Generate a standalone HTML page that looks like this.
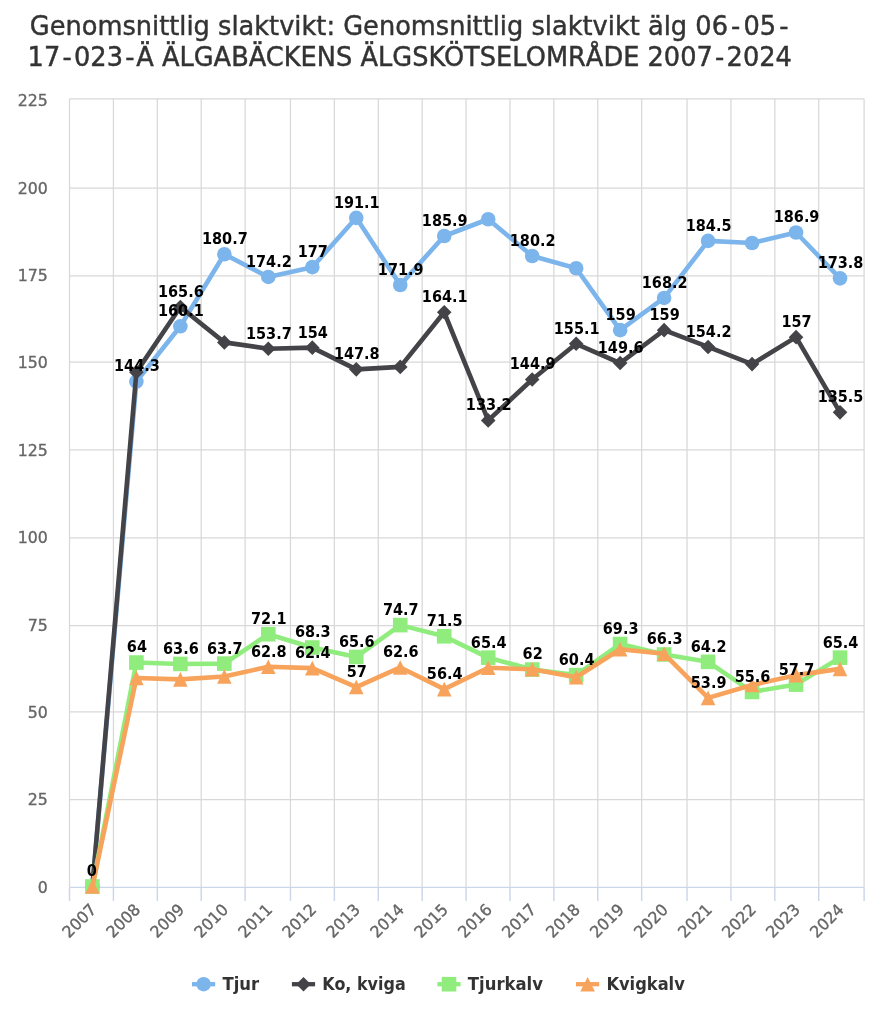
<!DOCTYPE html>
<html lang="sv"><head><meta charset="utf-8"><title>Genomsnittlig slaktvikt</title>
<style>html,body{margin:0;padding:0;background:#fff}body{width:878px;height:1024px;overflow:hidden}svg{display:block}
text{font-family:"DejaVu Sans", "Liberation Sans", sans-serif}
.title{font-size:26.3px;fill:#333;stroke:#333;stroke-width:.45px}
.ax{font-size:16.1px;fill:#666;stroke:#666;stroke-width:.35px}
.dl{font-size:16.1px;font-weight:bold;fill:#000}
.lg{font-size:17.6px;font-weight:bold;fill:#333}
</style></head><body>
<svg width="878" height="1024" viewBox="0 0 878 1024">
<rect width="878" height="1024" fill="#fff"/>
<text class="title" transform="translate(29.8 34.6) scale(0.976 1)" dx="0 0 0 0 0 0 0 0 0 0 0 0 0 0 0 0 0 0 0 0 0 0 0 0 0 0 0 0 0 0 0 0 0 0 0 0 0 0 0 0 0 0 0 0 0 0 0 0 0 0 0 0 0 0 0 3.2 3.2 0 3.2">Genomsnittlig slaktvikt: Genomsnittlig slaktvikt älg 06-05-</text>
<text class="title" transform="translate(27.6 65.7) scale(0.976 1)" dx="0 0 2.3 2.3 0 0 2.3 2.3 0 0 0 0 0 0 0 0 0 0 0 0 0 0 0 0 0 0 0 0 0 0 0 0 0 0 0 0 0 0 0 0 0 0 2.3 2.3 0 0 0">17-023-Ä ÄLGABÄCKENS ÄLGSKÖTSELOMRÅDE 2007-2024</text>
<g stroke="#d8d8d8" stroke-width="1.25" fill="none">
<path d="M69.51 98.77V887.37"/>
<path d="M113.41 98.77V887.37"/>
<path d="M157.31 98.77V887.37"/>
<path d="M201.21 98.77V887.37"/>
<path d="M245.11 98.77V887.37"/>
<path d="M290.47 98.77V887.37"/>
<path d="M334.37 98.77V887.37"/>
<path d="M378.27 98.77V887.37"/>
<path d="M422.17 98.77V887.37"/>
<path d="M466.07 98.77V887.37"/>
<path d="M509.97 98.77V887.37"/>
<path d="M553.87 98.77V887.37"/>
<path d="M597.77 98.77V887.37"/>
<path d="M641.67 98.77V887.37"/>
<path d="M687.03 98.77V887.37"/>
<path d="M730.93 98.77V887.37"/>
<path d="M774.83 98.77V887.37"/>
<path d="M818.73 98.77V887.37"/>
<path d="M864.10 98.77V887.37"/>
<path d="M69.51 799.71H864.10"/>
<path d="M69.51 711.91H864.10"/>
<path d="M69.51 625.57H864.10"/>
<path d="M69.51 537.77H864.10"/>
<path d="M69.51 449.97H864.10"/>
<path d="M69.51 362.17H864.10"/>
<path d="M69.51 275.84H864.10"/>
<path d="M69.51 188.04H864.10"/>
<path d="M69.51 98.77H864.10"/>
</g>
<g stroke="#ccd6eb" stroke-width="1.46" fill="none">
<path d="M69.51 887.37H864.10"/>
<path d="M69.51 887.37V901.07"/>
<path d="M113.41 887.37V901.07"/>
<path d="M157.31 887.37V901.07"/>
<path d="M201.21 887.37V901.07"/>
<path d="M245.11 887.37V901.07"/>
<path d="M290.47 887.37V901.07"/>
<path d="M334.37 887.37V901.07"/>
<path d="M378.27 887.37V901.07"/>
<path d="M422.17 887.37V901.07"/>
<path d="M466.07 887.37V901.07"/>
<path d="M509.97 887.37V901.07"/>
<path d="M553.87 887.37V901.07"/>
<path d="M597.77 887.37V901.07"/>
<path d="M641.67 887.37V901.07"/>
<path d="M687.03 887.37V901.07"/>
<path d="M730.93 887.37V901.07"/>
<path d="M774.83 887.37V901.07"/>
<path d="M818.73 887.37V901.07"/>
<path d="M864.10 887.37V901.07"/>
</g>
<text class="ax" text-anchor="end" transform="translate(47.9 892.97) scale(0.98 1)">0</text>
<text class="ax" text-anchor="end" transform="translate(47.9 805.31) scale(0.98 1)">25</text>
<text class="ax" text-anchor="end" transform="translate(47.9 717.51) scale(0.98 1)">50</text>
<text class="ax" text-anchor="end" transform="translate(47.9 631.17) scale(0.98 1)">75</text>
<text class="ax" text-anchor="end" transform="translate(47.9 543.37) scale(0.98 1)">100</text>
<text class="ax" text-anchor="end" transform="translate(47.9 455.57) scale(0.98 1)">125</text>
<text class="ax" text-anchor="end" transform="translate(47.9 367.77) scale(0.98 1)">150</text>
<text class="ax" text-anchor="end" transform="translate(47.9 281.44) scale(0.98 1)">175</text>
<text class="ax" text-anchor="end" transform="translate(47.9 193.64) scale(0.98 1)">200</text>
<text class="ax" text-anchor="end" transform="translate(47.9 105.55) scale(0.98 1)">225</text>
<text class="ax" text-anchor="end" transform="translate(97.31 910.57) rotate(-45) scale(0.975 1)">2007</text>
<text class="ax" text-anchor="end" transform="translate(141.29 910.57) rotate(-45) scale(0.975 1)">2008</text>
<text class="ax" text-anchor="end" transform="translate(185.26 910.57) rotate(-45) scale(0.975 1)">2009</text>
<text class="ax" text-anchor="end" transform="translate(229.24 910.57) rotate(-45) scale(0.975 1)">2010</text>
<text class="ax" text-anchor="end" transform="translate(273.22 910.57) rotate(-45) scale(0.975 1)">2011</text>
<text class="ax" text-anchor="end" transform="translate(317.20 910.57) rotate(-45) scale(0.975 1)">2012</text>
<text class="ax" text-anchor="end" transform="translate(361.17 910.57) rotate(-45) scale(0.975 1)">2013</text>
<text class="ax" text-anchor="end" transform="translate(405.15 910.57) rotate(-45) scale(0.975 1)">2014</text>
<text class="ax" text-anchor="end" transform="translate(449.13 910.57) rotate(-45) scale(0.975 1)">2015</text>
<text class="ax" text-anchor="end" transform="translate(493.11 910.57) rotate(-45) scale(0.975 1)">2016</text>
<text class="ax" text-anchor="end" transform="translate(537.08 910.57) rotate(-45) scale(0.975 1)">2017</text>
<text class="ax" text-anchor="end" transform="translate(581.06 910.57) rotate(-45) scale(0.975 1)">2018</text>
<text class="ax" text-anchor="end" transform="translate(625.04 910.57) rotate(-45) scale(0.975 1)">2019</text>
<text class="ax" text-anchor="end" transform="translate(669.02 910.57) rotate(-45) scale(0.975 1)">2020</text>
<text class="ax" text-anchor="end" transform="translate(713.00 910.57) rotate(-45) scale(0.975 1)">2021</text>
<text class="ax" text-anchor="end" transform="translate(756.97 910.57) rotate(-45) scale(0.975 1)">2022</text>
<text class="ax" text-anchor="end" transform="translate(800.95 910.57) rotate(-45) scale(0.975 1)">2023</text>
<text class="ax" text-anchor="end" transform="translate(844.93 910.57) rotate(-45) scale(0.975 1)">2024</text>
<g>
<path d="M92.41 886.49 L136.39 381.58 L180.36 326.30 L224.34 254.22 L268.32 276.96 L312.30 267.17 L356.27 217.83 L400.25 285.01 L444.23 236.02 L488.21 219.23 L532.18 255.97 L576.16 268.22 L620.14 330.15 L664.12 297.96 L708.10 240.92 L752.07 243.02 L796.05 232.53 L840.03 278.36" fill="none" stroke="#7cb5ec" stroke-width="4.6" stroke-linejoin="round" stroke-linecap="round"/>
<circle cx="92.41" cy="886.49" r="7.30" fill="#7cb5ec"/>
<circle cx="136.39" cy="381.58" r="7.30" fill="#7cb5ec"/>
<circle cx="180.36" cy="326.30" r="7.30" fill="#7cb5ec"/>
<circle cx="224.34" cy="254.22" r="7.30" fill="#7cb5ec"/>
<circle cx="268.32" cy="276.96" r="7.30" fill="#7cb5ec"/>
<circle cx="312.30" cy="267.17" r="7.30" fill="#7cb5ec"/>
<circle cx="356.27" cy="217.83" r="7.30" fill="#7cb5ec"/>
<circle cx="400.25" cy="285.01" r="7.30" fill="#7cb5ec"/>
<circle cx="444.23" cy="236.02" r="7.30" fill="#7cb5ec"/>
<circle cx="488.21" cy="219.23" r="7.30" fill="#7cb5ec"/>
<circle cx="532.18" cy="255.97" r="7.30" fill="#7cb5ec"/>
<circle cx="576.16" cy="268.22" r="7.30" fill="#7cb5ec"/>
<circle cx="620.14" cy="330.15" r="7.30" fill="#7cb5ec"/>
<circle cx="664.12" cy="297.96" r="7.30" fill="#7cb5ec"/>
<circle cx="708.10" cy="240.92" r="7.30" fill="#7cb5ec"/>
<circle cx="752.07" cy="243.02" r="7.30" fill="#7cb5ec"/>
<circle cx="796.05" cy="232.53" r="7.30" fill="#7cb5ec"/>
<circle cx="840.03" cy="278.36" r="7.30" fill="#7cb5ec"/>
</g>
<g>
<path d="M92.41 886.49 L136.39 372.14 L180.36 307.05 L224.34 342.39 L268.32 348.69 L312.30 347.64 L356.27 369.34 L400.25 366.89 L444.23 312.30 L488.21 420.42 L532.18 379.48 L576.16 343.79 L620.14 363.04 L664.12 330.15 L708.10 346.94 L752.07 364.09 L796.05 337.15 L840.03 412.37" fill="none" stroke="#434348" stroke-width="4.6" stroke-linejoin="round" stroke-linecap="round"/>
<path d="M92.41 879.19L99.71 886.49L92.41 893.79L85.11 886.49Z" fill="#434348"/>
<path d="M136.39 364.84L143.69 372.14L136.39 379.44L129.09 372.14Z" fill="#434348"/>
<path d="M180.36 299.75L187.66 307.05L180.36 314.35L173.06 307.05Z" fill="#434348"/>
<path d="M224.34 335.09L231.64 342.39L224.34 349.69L217.04 342.39Z" fill="#434348"/>
<path d="M268.32 341.39L275.62 348.69L268.32 355.99L261.02 348.69Z" fill="#434348"/>
<path d="M312.30 340.34L319.60 347.64L312.30 354.94L305.00 347.64Z" fill="#434348"/>
<path d="M356.27 362.04L363.57 369.34L356.27 376.64L348.97 369.34Z" fill="#434348"/>
<path d="M400.25 359.59L407.55 366.89L400.25 374.19L392.95 366.89Z" fill="#434348"/>
<path d="M444.23 305.00L451.53 312.30L444.23 319.60L436.93 312.30Z" fill="#434348"/>
<path d="M488.21 413.12L495.51 420.42L488.21 427.72L480.91 420.42Z" fill="#434348"/>
<path d="M532.18 372.18L539.48 379.48L532.18 386.78L524.88 379.48Z" fill="#434348"/>
<path d="M576.16 336.49L583.46 343.79L576.16 351.09L568.86 343.79Z" fill="#434348"/>
<path d="M620.14 355.74L627.44 363.04L620.14 370.34L612.84 363.04Z" fill="#434348"/>
<path d="M664.12 322.85L671.42 330.15L664.12 337.45L656.82 330.15Z" fill="#434348"/>
<path d="M708.10 339.64L715.40 346.94L708.10 354.24L700.80 346.94Z" fill="#434348"/>
<path d="M752.07 356.79L759.37 364.09L752.07 371.39L744.77 364.09Z" fill="#434348"/>
<path d="M796.05 329.85L803.35 337.15L796.05 344.45L788.75 337.15Z" fill="#434348"/>
<path d="M840.03 405.07L847.33 412.37L840.03 419.67L832.73 412.37Z" fill="#434348"/>
</g>
<g>
<path d="M92.41 886.49 L136.39 662.55 L180.36 663.95 L224.34 663.60 L268.32 634.21 L312.30 647.51 L356.27 656.95 L400.25 625.11 L444.23 636.31 L488.21 657.65 L532.18 669.55 L576.16 675.15 L620.14 644.01 L664.12 654.50 L708.10 661.85 L752.07 691.94 L796.05 684.60 L840.03 657.65" fill="none" stroke="#90ed7d" stroke-width="4.6" stroke-linejoin="round" stroke-linecap="round"/>
<rect x="85.11" y="879.19" width="14.60" height="14.60" fill="#90ed7d"/>
<rect x="129.09" y="655.25" width="14.60" height="14.60" fill="#90ed7d"/>
<rect x="173.06" y="656.65" width="14.60" height="14.60" fill="#90ed7d"/>
<rect x="217.04" y="656.30" width="14.60" height="14.60" fill="#90ed7d"/>
<rect x="261.02" y="626.91" width="14.60" height="14.60" fill="#90ed7d"/>
<rect x="305.00" y="640.21" width="14.60" height="14.60" fill="#90ed7d"/>
<rect x="348.97" y="649.65" width="14.60" height="14.60" fill="#90ed7d"/>
<rect x="392.95" y="617.81" width="14.60" height="14.60" fill="#90ed7d"/>
<rect x="436.93" y="629.01" width="14.60" height="14.60" fill="#90ed7d"/>
<rect x="480.91" y="650.35" width="14.60" height="14.60" fill="#90ed7d"/>
<rect x="524.88" y="662.25" width="14.60" height="14.60" fill="#90ed7d"/>
<rect x="568.86" y="667.85" width="14.60" height="14.60" fill="#90ed7d"/>
<rect x="612.84" y="636.71" width="14.60" height="14.60" fill="#90ed7d"/>
<rect x="656.82" y="647.20" width="14.60" height="14.60" fill="#90ed7d"/>
<rect x="700.80" y="654.55" width="14.60" height="14.60" fill="#90ed7d"/>
<rect x="744.77" y="684.64" width="14.60" height="14.60" fill="#90ed7d"/>
<rect x="788.75" y="677.30" width="14.60" height="14.60" fill="#90ed7d"/>
<rect x="832.73" y="650.35" width="14.60" height="14.60" fill="#90ed7d"/>
</g>
<g>
<path d="M92.41 886.49 L136.39 677.95 L180.36 679.35 L224.34 676.55 L268.32 666.75 L312.30 668.15 L356.27 687.04 L400.25 667.45 L444.23 689.14 L488.21 667.80 L532.18 669.20 L576.16 677.25 L620.14 649.26 L664.12 653.80 L708.10 697.89 L752.07 684.95 L796.05 675.15 L840.03 668.85" fill="none" stroke="#f7a35c" stroke-width="4.6" stroke-linejoin="round" stroke-linecap="round"/>
<path d="M92.41 879.19L99.71 893.79L85.11 893.79Z" fill="#f7a35c"/>
<path d="M136.39 670.65L143.69 685.25L129.09 685.25Z" fill="#f7a35c"/>
<path d="M180.36 672.05L187.66 686.65L173.06 686.65Z" fill="#f7a35c"/>
<path d="M224.34 669.25L231.64 683.85L217.04 683.85Z" fill="#f7a35c"/>
<path d="M268.32 659.45L275.62 674.05L261.02 674.05Z" fill="#f7a35c"/>
<path d="M312.30 660.85L319.60 675.45L305.00 675.45Z" fill="#f7a35c"/>
<path d="M356.27 679.74L363.57 694.34L348.97 694.34Z" fill="#f7a35c"/>
<path d="M400.25 660.15L407.55 674.75L392.95 674.75Z" fill="#f7a35c"/>
<path d="M444.23 681.84L451.53 696.44L436.93 696.44Z" fill="#f7a35c"/>
<path d="M488.21 660.50L495.51 675.10L480.91 675.10Z" fill="#f7a35c"/>
<path d="M532.18 661.90L539.48 676.50L524.88 676.50Z" fill="#f7a35c"/>
<path d="M576.16 669.95L583.46 684.55L568.86 684.55Z" fill="#f7a35c"/>
<path d="M620.14 641.96L627.44 656.56L612.84 656.56Z" fill="#f7a35c"/>
<path d="M664.12 646.50L671.42 661.10L656.82 661.10Z" fill="#f7a35c"/>
<path d="M708.10 690.59L715.40 705.19L700.80 705.19Z" fill="#f7a35c"/>
<path d="M752.07 677.65L759.37 692.25L744.77 692.25Z" fill="#f7a35c"/>
<path d="M796.05 667.85L803.35 682.45L788.75 682.45Z" fill="#f7a35c"/>
<path d="M840.03 661.55L847.33 676.15L832.73 676.15Z" fill="#f7a35c"/>
</g>
<g text-anchor="middle">
<text class="dl" transform="translate(136.89 371.48) scale(0.9 1)">144.3</text>
<text class="dl" transform="translate(180.86 316.20) scale(0.9 1)">160.1</text>
<text class="dl" transform="translate(224.84 244.12) scale(0.9 1)">180.7</text>
<text class="dl" transform="translate(268.82 266.86) scale(0.9 1)">174.2</text>
<text class="dl" transform="translate(312.80 257.07) scale(0.9 1)">177</text>
<text class="dl" transform="translate(356.77 207.73) scale(0.9 1)">191.1</text>
<text class="dl" transform="translate(400.75 274.91) scale(0.9 1)">171.9</text>
<text class="dl" transform="translate(444.73 225.92) scale(0.9 1)">185.9</text>
<text class="dl" transform="translate(532.68 245.87) scale(0.9 1)">180.2</text>
<text class="dl" transform="translate(620.64 320.05) scale(0.9 1)">159</text>
<text class="dl" transform="translate(664.62 287.86) scale(0.9 1)">168.2</text>
<text class="dl" transform="translate(708.60 230.82) scale(0.9 1)">184.5</text>
<text class="dl" transform="translate(796.55 222.43) scale(0.9 1)">186.9</text>
<text class="dl" transform="translate(840.53 268.26) scale(0.9 1)">173.8</text>
<text class="dl" transform="translate(180.86 296.95) scale(0.9 1)">165.6</text>
<text class="dl" transform="translate(268.82 338.59) scale(0.9 1)">153.7</text>
<text class="dl" transform="translate(312.80 337.54) scale(0.9 1)">154</text>
<text class="dl" transform="translate(356.77 359.24) scale(0.9 1)">147.8</text>
<text class="dl" transform="translate(444.73 302.20) scale(0.9 1)">164.1</text>
<text class="dl" transform="translate(488.71 410.32) scale(0.9 1)">133.2</text>
<text class="dl" transform="translate(532.68 369.38) scale(0.9 1)">144.9</text>
<text class="dl" transform="translate(576.66 333.69) scale(0.9 1)">155.1</text>
<text class="dl" transform="translate(620.64 352.94) scale(0.9 1)">149.6</text>
<text class="dl" transform="translate(664.62 320.05) scale(0.9 1)">159</text>
<text class="dl" transform="translate(708.60 336.84) scale(0.9 1)">154.2</text>
<text class="dl" transform="translate(796.55 327.05) scale(0.9 1)">157</text>
<text class="dl" transform="translate(840.53 402.27) scale(0.9 1)">135.5</text>
<text class="dl" transform="translate(136.89 652.45) scale(0.9 1)">64</text>
<text class="dl" transform="translate(180.86 653.85) scale(0.9 1)">63.6</text>
<text class="dl" transform="translate(224.84 653.50) scale(0.9 1)">63.7</text>
<text class="dl" transform="translate(268.82 624.11) scale(0.9 1)">72.1</text>
<text class="dl" transform="translate(312.80 637.41) scale(0.9 1)">68.3</text>
<text class="dl" transform="translate(356.77 646.85) scale(0.9 1)">65.6</text>
<text class="dl" transform="translate(400.75 615.01) scale(0.9 1)">74.7</text>
<text class="dl" transform="translate(444.73 626.21) scale(0.9 1)">71.5</text>
<text class="dl" transform="translate(488.71 647.55) scale(0.9 1)">65.4</text>
<text class="dl" transform="translate(532.68 659.45) scale(0.9 1)">62</text>
<text class="dl" transform="translate(576.66 665.05) scale(0.9 1)">60.4</text>
<text class="dl" transform="translate(620.64 633.91) scale(0.9 1)">69.3</text>
<text class="dl" transform="translate(664.62 644.40) scale(0.9 1)">66.3</text>
<text class="dl" transform="translate(708.60 651.75) scale(0.9 1)">64.2</text>
<text class="dl" transform="translate(752.57 681.84) scale(0.9 1)">55.6</text>
<text class="dl" transform="translate(796.55 674.50) scale(0.9 1)">57.7</text>
<text class="dl" transform="translate(840.53 647.55) scale(0.9 1)">65.4</text>
<text class="dl" transform="translate(91.81 876.39) scale(0.9 1)">0</text>
<text class="dl" transform="translate(268.82 656.65) scale(0.9 1)">62.8</text>
<text class="dl" transform="translate(312.80 658.05) scale(0.9 1)">62.4</text>
<text class="dl" transform="translate(356.77 676.94) scale(0.9 1)">57</text>
<text class="dl" transform="translate(400.75 657.35) scale(0.9 1)">62.6</text>
<text class="dl" transform="translate(444.73 679.04) scale(0.9 1)">56.4</text>
<text class="dl" transform="translate(708.60 687.79) scale(0.9 1)">53.9</text>
</g>
<path d="M192.00 984.20H215.20" stroke="#7cb5ec" stroke-width="4.3" fill="none"/>
<circle cx="203.60" cy="984.20" r="7.30" fill="#7cb5ec"/>
<text class="lg" transform="translate(222.40 990.10) scale(0.936 1)">Tjur</text>
<path d="M291.90 984.20H315.10" stroke="#434348" stroke-width="4.3" fill="none"/>
<path d="M303.50 976.90L310.80 984.20L303.50 991.50L296.20 984.20Z" fill="#434348"/>
<text class="lg" transform="translate(322.30 990.10) scale(0.907 1)">Ko, kviga</text>
<path d="M437.40 984.20H460.60" stroke="#90ed7d" stroke-width="4.3" fill="none"/>
<rect x="441.70" y="976.90" width="14.60" height="14.60" fill="#90ed7d"/>
<text class="lg" transform="translate(467.80 990.10) scale(0.937 1)">Tjurkalv</text>
<path d="M576.00 984.20H599.20" stroke="#f7a35c" stroke-width="4.3" fill="none"/>
<path d="M587.60 976.90L594.90 991.50L580.30 991.50Z" fill="#f7a35c"/>
<text class="lg" transform="translate(606.40 990.10) scale(0.925 1)">Kvigkalv</text>
</svg></body></html>
